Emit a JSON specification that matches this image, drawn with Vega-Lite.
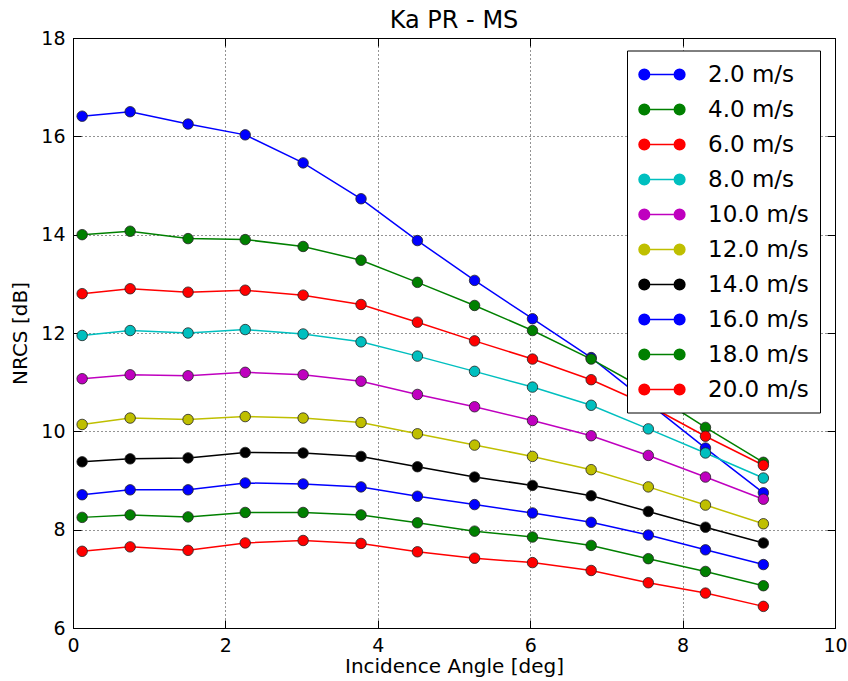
{
  "$schema": "https://vega.github.io/schema/vega-lite/v6.json",
  "autosize": "none",
  "width": 762,
  "height": 590,
  "padding": {"left": 73, "top": 38, "right": 13, "bottom": 53},
  "background": "white",
  "title": {"text": "Ka PR - MS", "fontSize": 24, "fontWeight": "normal", "color": "black", "offset": -4, "font": "DejaVu Sans"},
  "config": {
    "font": "DejaVu Sans",
    "view": {"stroke": "black", "strokeWidth": 1},
    "axis": {
      "domainColor": "black",
      "tickColor": "black",
      "labelColor": "black",
      "titleColor": "black",
      "labelFontSize": 19,
      "titleFontSize": 20,
      "titleFontWeight": "normal",
      "labelFlush": false,
      "tickSize": -8,
      "labelPadding": 16,
      "gridColor": "black",
      "gridDash": [1, 3],
      "gridOpacity": 0.85,
      "gridWidth": 1
    },
    "legend": {
      "orient": "none",
      "legendX": 554,
      "legendY": 12.5,
      "strokeColor": "black",
      "strokeWidth": 1,
      "fillColor": "white",
      "padding": 11,
      "labelFontSize": 23,
      "labelColor": "black",
      "labelOffset": 44,
      "rowPadding": 10,
      "symbolSize": 576,
      "symbolStrokeWidth": 1.5,
      "symbolType": "M-0.558,0L2.383,0M-1,0a0.442,0.442 0 1,0 0.884,0a0.442,0.442 0 1,0 -0.884,0M1.941,0a0.442,0.442 0 1,0 0.884,0a0.442,0.442 0 1,0 -0.884,0"
    }
  },
  "data": {
    "values": [
      {"angle": 0.12, "nrcs": 16.41, "wind": "2.0 m/s"},
      {"angle": 0.75, "nrcs": 16.50, "wind": "2.0 m/s"},
      {"angle": 1.51, "nrcs": 16.25, "wind": "2.0 m/s"},
      {"angle": 2.26, "nrcs": 16.03, "wind": "2.0 m/s"},
      {"angle": 3.02, "nrcs": 15.46, "wind": "2.0 m/s"},
      {"angle": 3.78, "nrcs": 14.73, "wind": "2.0 m/s"},
      {"angle": 4.52, "nrcs": 13.88, "wind": "2.0 m/s"},
      {"angle": 5.27, "nrcs": 13.07, "wind": "2.0 m/s"},
      {"angle": 6.03, "nrcs": 12.29, "wind": "2.0 m/s"},
      {"angle": 6.80, "nrcs": 11.50, "wind": "2.0 m/s"},
      {"angle": 7.55, "nrcs": 10.58, "wind": "2.0 m/s"},
      {"angle": 8.30, "nrcs": 9.66, "wind": "2.0 m/s"},
      {"angle": 9.06, "nrcs": 8.75, "wind": "2.0 m/s"},

      {"angle": 0.12, "nrcs": 14.00, "wind": "4.0 m/s"},
      {"angle": 0.75, "nrcs": 14.07, "wind": "4.0 m/s"},
      {"angle": 1.51, "nrcs": 13.92, "wind": "4.0 m/s"},
      {"angle": 2.26, "nrcs": 13.90, "wind": "4.0 m/s"},
      {"angle": 3.02, "nrcs": 13.76, "wind": "4.0 m/s"},
      {"angle": 3.78, "nrcs": 13.48, "wind": "4.0 m/s"},
      {"angle": 4.52, "nrcs": 13.03, "wind": "4.0 m/s"},
      {"angle": 5.27, "nrcs": 12.56, "wind": "4.0 m/s"},
      {"angle": 6.03, "nrcs": 12.05, "wind": "4.0 m/s"},
      {"angle": 6.80, "nrcs": 11.47, "wind": "4.0 m/s"},
      {"angle": 7.55, "nrcs": 10.82, "wind": "4.0 m/s"},
      {"angle": 8.30, "nrcs": 10.08, "wind": "4.0 m/s"},
      {"angle": 9.06, "nrcs": 9.37, "wind": "4.0 m/s"},

      {"angle": 0.12, "nrcs": 12.80, "wind": "6.0 m/s"},
      {"angle": 0.75, "nrcs": 12.90, "wind": "6.0 m/s"},
      {"angle": 1.51, "nrcs": 12.83, "wind": "6.0 m/s"},
      {"angle": 2.26, "nrcs": 12.87, "wind": "6.0 m/s"},
      {"angle": 3.02, "nrcs": 12.77, "wind": "6.0 m/s"},
      {"angle": 3.78, "nrcs": 12.58, "wind": "6.0 m/s"},
      {"angle": 4.52, "nrcs": 12.22, "wind": "6.0 m/s"},
      {"angle": 5.27, "nrcs": 11.84, "wind": "6.0 m/s"},
      {"angle": 6.03, "nrcs": 11.47, "wind": "6.0 m/s"},
      {"angle": 6.80, "nrcs": 11.05, "wind": "6.0 m/s"},
      {"angle": 7.55, "nrcs": 10.53, "wind": "6.0 m/s"},
      {"angle": 8.30, "nrcs": 9.90, "wind": "6.0 m/s"},
      {"angle": 9.06, "nrcs": 9.31, "wind": "6.0 m/s"},

      {"angle": 0.12, "nrcs": 11.95, "wind": "8.0 m/s"},
      {"angle": 0.75, "nrcs": 12.05, "wind": "8.0 m/s"},
      {"angle": 1.51, "nrcs": 12.00, "wind": "8.0 m/s"},
      {"angle": 2.26, "nrcs": 12.07, "wind": "8.0 m/s"},
      {"angle": 3.02, "nrcs": 11.98, "wind": "8.0 m/s"},
      {"angle": 3.78, "nrcs": 11.82, "wind": "8.0 m/s"},
      {"angle": 4.52, "nrcs": 11.53, "wind": "8.0 m/s"},
      {"angle": 5.27, "nrcs": 11.22, "wind": "8.0 m/s"},
      {"angle": 6.03, "nrcs": 10.90, "wind": "8.0 m/s"},
      {"angle": 6.80, "nrcs": 10.53, "wind": "8.0 m/s"},
      {"angle": 7.55, "nrcs": 10.05, "wind": "8.0 m/s"},
      {"angle": 8.30, "nrcs": 9.56, "wind": "8.0 m/s"},
      {"angle": 9.06, "nrcs": 9.05, "wind": "8.0 m/s"},

      {"angle": 0.12, "nrcs": 11.07, "wind": "10.0 m/s"},
      {"angle": 0.75, "nrcs": 11.15, "wind": "10.0 m/s"},
      {"angle": 1.51, "nrcs": 11.13, "wind": "10.0 m/s"},
      {"angle": 2.26, "nrcs": 11.20, "wind": "10.0 m/s"},
      {"angle": 3.02, "nrcs": 11.15, "wind": "10.0 m/s"},
      {"angle": 3.78, "nrcs": 11.02, "wind": "10.0 m/s"},
      {"angle": 4.52, "nrcs": 10.75, "wind": "10.0 m/s"},
      {"angle": 5.27, "nrcs": 10.50, "wind": "10.0 m/s"},
      {"angle": 6.03, "nrcs": 10.22, "wind": "10.0 m/s"},
      {"angle": 6.80, "nrcs": 9.91, "wind": "10.0 m/s"},
      {"angle": 7.55, "nrcs": 9.51, "wind": "10.0 m/s"},
      {"angle": 8.30, "nrcs": 9.07, "wind": "10.0 m/s"},
      {"angle": 9.06, "nrcs": 8.62, "wind": "10.0 m/s"},

      {"angle": 0.12, "nrcs": 10.14, "wind": "12.0 m/s"},
      {"angle": 0.75, "nrcs": 10.27, "wind": "12.0 m/s"},
      {"angle": 1.51, "nrcs": 10.24, "wind": "12.0 m/s"},
      {"angle": 2.26, "nrcs": 10.30, "wind": "12.0 m/s"},
      {"angle": 3.02, "nrcs": 10.27, "wind": "12.0 m/s"},
      {"angle": 3.78, "nrcs": 10.18, "wind": "12.0 m/s"},
      {"angle": 4.52, "nrcs": 9.95, "wind": "12.0 m/s"},
      {"angle": 5.27, "nrcs": 9.72, "wind": "12.0 m/s"},
      {"angle": 6.03, "nrcs": 9.49, "wind": "12.0 m/s"},
      {"angle": 6.80, "nrcs": 9.22, "wind": "12.0 m/s"},
      {"angle": 7.55, "nrcs": 8.87, "wind": "12.0 m/s"},
      {"angle": 8.30, "nrcs": 8.50, "wind": "12.0 m/s"},
      {"angle": 9.06, "nrcs": 8.12, "wind": "12.0 m/s"},

      {"angle": 0.12, "nrcs": 9.38, "wind": "14.0 m/s"},
      {"angle": 0.75, "nrcs": 9.44, "wind": "14.0 m/s"},
      {"angle": 1.51, "nrcs": 9.46, "wind": "14.0 m/s"},
      {"angle": 2.26, "nrcs": 9.57, "wind": "14.0 m/s"},
      {"angle": 3.02, "nrcs": 9.56, "wind": "14.0 m/s"},
      {"angle": 3.78, "nrcs": 9.49, "wind": "14.0 m/s"},
      {"angle": 4.52, "nrcs": 9.28, "wind": "14.0 m/s"},
      {"angle": 5.27, "nrcs": 9.07, "wind": "14.0 m/s"},
      {"angle": 6.03, "nrcs": 8.90, "wind": "14.0 m/s"},
      {"angle": 6.80, "nrcs": 8.69, "wind": "14.0 m/s"},
      {"angle": 7.55, "nrcs": 8.37, "wind": "14.0 m/s"},
      {"angle": 8.30, "nrcs": 8.05, "wind": "14.0 m/s"},
      {"angle": 9.06, "nrcs": 7.73, "wind": "14.0 m/s"},

      {"angle": 0.12, "nrcs": 8.71, "wind": "16.0 m/s"},
      {"angle": 0.75, "nrcs": 8.81, "wind": "16.0 m/s"},
      {"angle": 1.51, "nrcs": 8.81, "wind": "16.0 m/s"},
      {"angle": 2.26, "nrcs": 8.95, "wind": "16.0 m/s"},
      {"angle": 3.02, "nrcs": 8.93, "wind": "16.0 m/s"},
      {"angle": 3.78, "nrcs": 8.87, "wind": "16.0 m/s"},
      {"angle": 4.52, "nrcs": 8.68, "wind": "16.0 m/s"},
      {"angle": 5.27, "nrcs": 8.51, "wind": "16.0 m/s"},
      {"angle": 6.03, "nrcs": 8.34, "wind": "16.0 m/s"},
      {"angle": 6.80, "nrcs": 8.15, "wind": "16.0 m/s"},
      {"angle": 7.55, "nrcs": 7.89, "wind": "16.0 m/s"},
      {"angle": 8.30, "nrcs": 7.59, "wind": "16.0 m/s"},
      {"angle": 9.06, "nrcs": 7.29, "wind": "16.0 m/s"},

      {"angle": 0.12, "nrcs": 8.25, "wind": "18.0 m/s"},
      {"angle": 0.75, "nrcs": 8.30, "wind": "18.0 m/s"},
      {"angle": 1.51, "nrcs": 8.26, "wind": "18.0 m/s"},
      {"angle": 2.26, "nrcs": 8.35, "wind": "18.0 m/s"},
      {"angle": 3.02, "nrcs": 8.35, "wind": "18.0 m/s"},
      {"angle": 3.78, "nrcs": 8.30, "wind": "18.0 m/s"},
      {"angle": 4.52, "nrcs": 8.14, "wind": "18.0 m/s"},
      {"angle": 5.27, "nrcs": 7.97, "wind": "18.0 m/s"},
      {"angle": 6.03, "nrcs": 7.85, "wind": "18.0 m/s"},
      {"angle": 6.80, "nrcs": 7.68, "wind": "18.0 m/s"},
      {"angle": 7.55, "nrcs": 7.41, "wind": "18.0 m/s"},
      {"angle": 8.30, "nrcs": 7.15, "wind": "18.0 m/s"},
      {"angle": 9.06, "nrcs": 6.86, "wind": "18.0 m/s"},

      {"angle": 0.12, "nrcs": 7.56, "wind": "20.0 m/s"},
      {"angle": 0.75, "nrcs": 7.65, "wind": "20.0 m/s"},
      {"angle": 1.51, "nrcs": 7.58, "wind": "20.0 m/s"},
      {"angle": 2.26, "nrcs": 7.73, "wind": "20.0 m/s"},
      {"angle": 3.02, "nrcs": 7.78, "wind": "20.0 m/s"},
      {"angle": 3.78, "nrcs": 7.72, "wind": "20.0 m/s"},
      {"angle": 4.52, "nrcs": 7.55, "wind": "20.0 m/s"},
      {"angle": 5.27, "nrcs": 7.42, "wind": "20.0 m/s"},
      {"angle": 6.03, "nrcs": 7.33, "wind": "20.0 m/s"},
      {"angle": 6.80, "nrcs": 7.17, "wind": "20.0 m/s"},
      {"angle": 7.55, "nrcs": 6.92, "wind": "20.0 m/s"},
      {"angle": 8.30, "nrcs": 6.71, "wind": "20.0 m/s"},
      {"angle": 9.06, "nrcs": 6.44, "wind": "20.0 m/s"}
    ]
  },
  "layer": [
    {
      "mark": {
        "type": "line",
        "strokeWidth": 1.5,
        "point": {"filled": true, "size": 110, "stroke": "#222222", "strokeWidth": 0.8, "opacity": 1}
      },
      "encoding": {
        "x": {
          "field": "angle",
          "type": "quantitative",
          "scale": {"domain": [0, 10], "nice": false, "zero": false},
          "axis": {"orient": "bottom", "values": [0, 2, 4, 6, 8, 10], "grid": true, "title": "Incidence Angle [deg]", "titlePadding": 1}
        },
        "y": {
          "field": "nrcs",
          "type": "quantitative",
          "scale": {"domain": [6, 18], "nice": false, "zero": false},
          "axis": {"orient": "left", "values": [6, 8, 10, 12, 14, 16, 18], "grid": true, "title": "NRCS [dB]", "titlePadding": 10}
        },
        "color": {
          "field": "wind",
          "type": "nominal",
          "sort": null,
          "scale": {
            "domain": ["2.0 m/s", "4.0 m/s", "6.0 m/s", "8.0 m/s", "10.0 m/s", "12.0 m/s", "14.0 m/s", "16.0 m/s", "18.0 m/s", "20.0 m/s"],
            "range": ["#0000ff", "#008000", "#ff0000", "#00bfbf", "#bf00bf", "#bfbf00", "#000000", "#0000ff", "#008000", "#ff0000"]
          },
          "legend": {
            "title": null,
            "encode": {
              "symbols": {
                "update": {
                  "fill": {"scale": "color", "field": "value"},
                  "stroke": {"scale": "color", "field": "value"},
                  "opacity": {"value": 1}
                }
              }
            }
          }
        }
      }
    },
    {
      "mark": {"type": "point", "opacity": 0},
      "encoding": {
        "x": {
          "field": "angle",
          "type": "quantitative",
          "scale": {"domain": [0, 10], "nice": false, "zero": false},
          "axis": {"orient": "top", "values": [0, 2, 4, 6, 8, 10], "grid": false, "labels": false, "title": null, "domain": false}
        },
        "y": {
          "field": "nrcs",
          "type": "quantitative",
          "scale": {"domain": [6, 18], "nice": false, "zero": false},
          "axis": {"orient": "right", "values": [6, 8, 10, 12, 14, 16, 18], "grid": false, "labels": false, "title": null, "domain": false}
        }
      }
    }
  ],
  "resolve": {"scale": {"x": "independent", "y": "independent"}}
}
